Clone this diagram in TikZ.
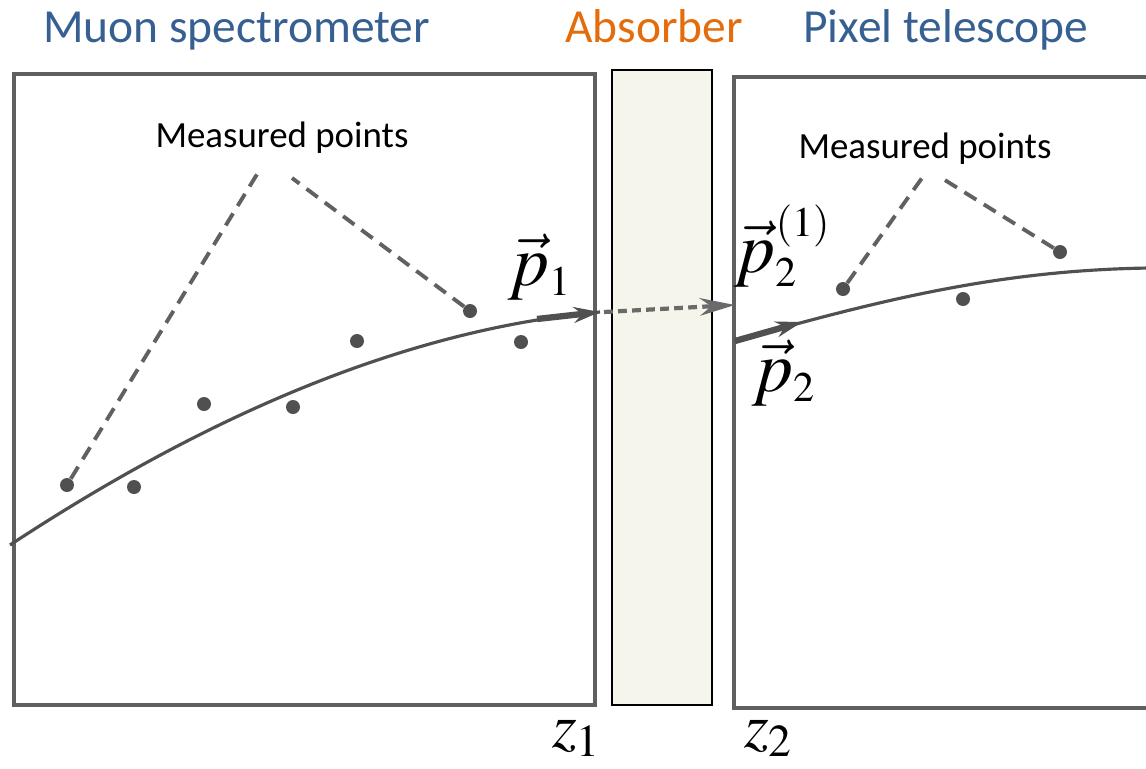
\documentclass[tikz,border=0pt]{standalone}
\usepackage[no-math]{fontspec}
\usepackage{mathptmx}
\usetikzlibrary{arrows.meta}

\newfontfamily\calfont{Carlito}
\DeclareMathSizes{41}{41}{24}{17}
\DeclareMathSizes{36}{36}{26}{18}

\definecolor{titleblue}{RGB}{55,96,146}
\definecolor{titleorange}{RGB}{228,108,10}
\definecolor{trackgray}{RGB}{80,80,80}
\definecolor{boxgray}{RGB}{95,95,95}
\definecolor{absorberfill}{RGB}{246,245,236}

\begin{document}
\begin{tikzpicture}[x=0.02cm, y=-0.02cm,
    title/.style={font=\calfont\fontsize{27}{30}\selectfont, anchor=base west, inner sep=0pt},
    measlabel/.style={font=\calfont\fontsize{21}{24}\selectfont, anchor=base, inner sep=0pt},
    momlabel/.style={font=\fontsize{41}{44}\selectfont, anchor=base west, inner sep=0pt},
    zlabel/.style={font=\fontsize{36}{40}\selectfont, anchor=base west, inner sep=0pt},
    detector/.style={draw=boxgray, line width=2pt},
    absorber/.style={draw=black, line width=0.8pt, fill=absorberfill},
    track/.style={draw=trackgray, line width=1.8pt},
    momentum/.style={draw=trackgray, line width=3.6pt, -{Stealth[length=15pt, width=9pt]}},
    passage/.style={draw=trackgray!85, line width=2.4pt, dash pattern=on 5pt off 3pt, -{Stealth[length=20pt, width=10pt]}},
    pointer/.style={draw=trackgray!90, line width=2.2pt, dash pattern=on 8pt off 5pt},
    hit/.style={circle, fill=trackgray, inner sep=0pt, minimum size=0.28cm}]

    \useasboundingbox[fill=white] (0,0) rectangle (1146,768);

    % Titles
    \node[title, text=titleblue] (tspec) at (43,42) {Muon spectrometer};
    \node[title, text=titleorange] (tabs) at (565,42) {Absorber};
    \node[title, text=titleblue] (tpix) at (803,42) {Pixel telescope};

    % Detectors and absorber
    \draw[detector] (14,74) rectangle (595,705);
    \draw[absorber] (612,70) rectangle (712,705);
    \draw[detector] (1150,77) -- (734,77) -- (734,708) -- (1150,708);

    % Track in the muon spectrometer
    \coordinate (in1) at (10,545);
    \coordinate (p1base) at (537,319);
    \coordinate (p1tip) at (600,312);
    \draw[track] (in1) .. controls (200,420) and (400,330) .. (p1tip);
    \draw[momentum] (p1base) -- (p1tip);

    % Extrapolation through the absorber
    \coordinate (exit1) at (604,312);
    \coordinate (entry2) at (735,305);
    \draw[passage] (exit1) -- (entry2);

    % Track in the pixel telescope
    \coordinate (in2) at (735,341);
    \coordinate (p2tip) at (802,322);
    \coordinate (out2) at (1150,268);
    \draw[track] (in2) .. controls (880,300) and (1000,270) .. (out2);
    \draw[momentum] (in2) -- (p2tip);

    % Measured points
    \node[hit] (h1) at (67,485) {};
    \node[hit] (h2) at (134,487) {};
    \node[hit] (h3) at (204,404) {};
    \node[hit] (h4) at (293,407) {};
    \node[hit] (h5) at (357,341) {};
    \node[hit] (h6) at (470,311) {};
    \node[hit] (h7) at (521,342) {};
    \node[hit] (r1) at (843,289) {};
    \node[hit] (r2) at (963,299) {};
    \node[hit] (r3) at (1060,252) {};

    \node[measlabel] (mleft) at (282,147) {Measured points};
    \node[measlabel] (mright) at (925,158) {Measured points};

    \coordinate (apexL1) at (259,171);
    \coordinate (apexL2) at (292,178);
    \coordinate (apexR1) at (922,178);
    \coordinate (apexR2) at (940,177);
    \draw[pointer] (h1) -- (apexL1);
    \draw[pointer] (h6) -- (apexL2);
    \draw[pointer] (r1) -- (apexR1);
    \draw[pointer] (r3) -- (apexR2);

    % Momentum labels
    \node[momlabel] (lp1) at (508,285) {$\vec{p}_1$};
    \node[momlabel] (lp21) at (734,272) {$\vec{p}_2^{(1)}$};
    \node[momlabel] (lp2) at (752,391) {$\vec{p}_2$};

    % Positions
    \node[zlabel] (lz1) at (552,747) {$z_1$};
    \node[zlabel] (lz2) at (744,747) {$z_2$};
\end{tikzpicture}
\end{document}
